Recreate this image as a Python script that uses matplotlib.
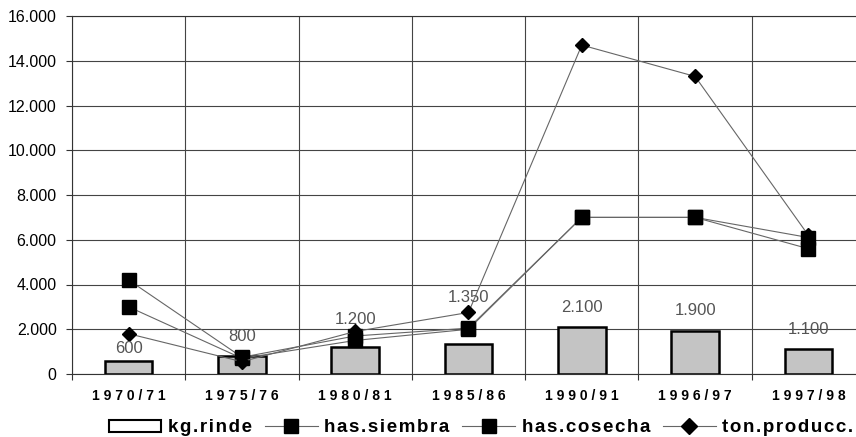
import matplotlib
matplotlib.use("Agg")
import matplotlib.pyplot as plt
from matplotlib.lines import Line2D
from matplotlib.patches import Patch
import numpy as np

plt.rcParams['font.family'] = ['Liberation Sans', 'DejaVu Sans']

categories = ["1970/71", "1975/76", "1980/81", "1985/86", "1990/91", "1996/97", "1997/98"]
kg_rinde = [600, 800, 1200, 1350, 2100, 1900, 1100]
has_siembra = [4200, 750, 1700, 2050, 7000, 7000, 6100]
has_cosecha = [3000, 700, 1500, 2000, 7000, 7000, 5600]
ton_producc = [1800, 550, 1900, 2750, 14700, 13300, 6200]
bar_labels = ["600", "800", "1.200", "1.350", "2.100", "1.900", "1.100"]
label_offsets_pt = [9, 14, 20, 33, 14, 15, 14]
yticks = [0, 2000, 4000, 6000, 8000, 10000, 12000, 14000, 16000]
ytick_labels = ["0", "2.000", "4.000", "6.000", "8.000", "10.000", "12.000", "14.000", "16.000"]

fig = plt.figure(figsize=(8.56, 4.37), dpi=100)
ax = fig.add_axes([72/856, 63/437, 793/856, 358/437])

x = np.arange(len(categories))
ax.bar(x, kg_rinde, width=0.42, color="#c4c4c4", edgecolor="black", linewidth=1.8, zorder=3)
for xi, v, lab, off in zip(x, kg_rinde, bar_labels, label_offsets_pt):
    ax.annotate(lab, (xi, v), xytext=(0, off), textcoords="offset points",
                ha="center", va="center", fontsize=12, color="#555555", zorder=5)

line_kw = dict(color="#666666", linewidth=0.8, markerfacecolor="black", markeredgecolor="black")
ax.plot(x, has_siembra, marker="s", markersize=9.5, zorder=4, **line_kw)
ax.plot(x, has_cosecha, marker="s", markersize=9.5, zorder=4, **line_kw)
ax.plot(x, ton_producc, marker="D", markersize=7.5, zorder=4, **line_kw)

ax.set_xlim(-0.5, len(categories) - 0.5)
ax.set_ylim(0, 16000)
ax.set_yticks(yticks)
ax.set_yticklabels(ytick_labels, fontsize=11.5)
ax.set_xticks(np.arange(len(categories) + 1) - 0.5)
ax.set_xticklabels([])
ax.set_xticks(x, minor=True)
ax.set_xticklabels([" ".join(c) for c in categories], minor=True, fontsize=10, fontweight="bold")
ax.tick_params(axis="x", which="minor", length=0, pad=11)
ax.tick_params(axis="x", which="major", length=4, width=0.8, color="#333333")
ax.tick_params(axis="y", length=4, width=0.8, color="#333333", pad=7)
ax.grid(True, which="major", color="#444444", linewidth=0.8, zorder=0)
ax.set_axisbelow(True)
for s in ax.spines.values():
    s.set_color("#333333")
    s.set_linewidth(0.8)

sp = "\u200a"
handles = [
    Patch(facecolor="white", edgecolor="black", linewidth=1.5),
    Line2D([], [], marker="s", markersize=10.5, **line_kw),
    Line2D([], [], marker="s", markersize=10.5, **line_kw),
    Line2D([], [], marker="D", markersize=8.5, **line_kw),
]
labels = ["kg.rinde", "has.siembra", "has.cosecha", "ton.producc."]
fig.legend(handles, [sp.join(l) for l in labels], loc="center", bbox_to_anchor=(481/856, 1 - 428/437), ncol=4,
           frameon=False, prop={"weight": "bold", "size": 13.5}, handlelength=2.8,
           handleheight=0.55, columnspacing=0.7, handletextpad=0.35, borderaxespad=0)

fig.savefig("out.png", dpi=100)
